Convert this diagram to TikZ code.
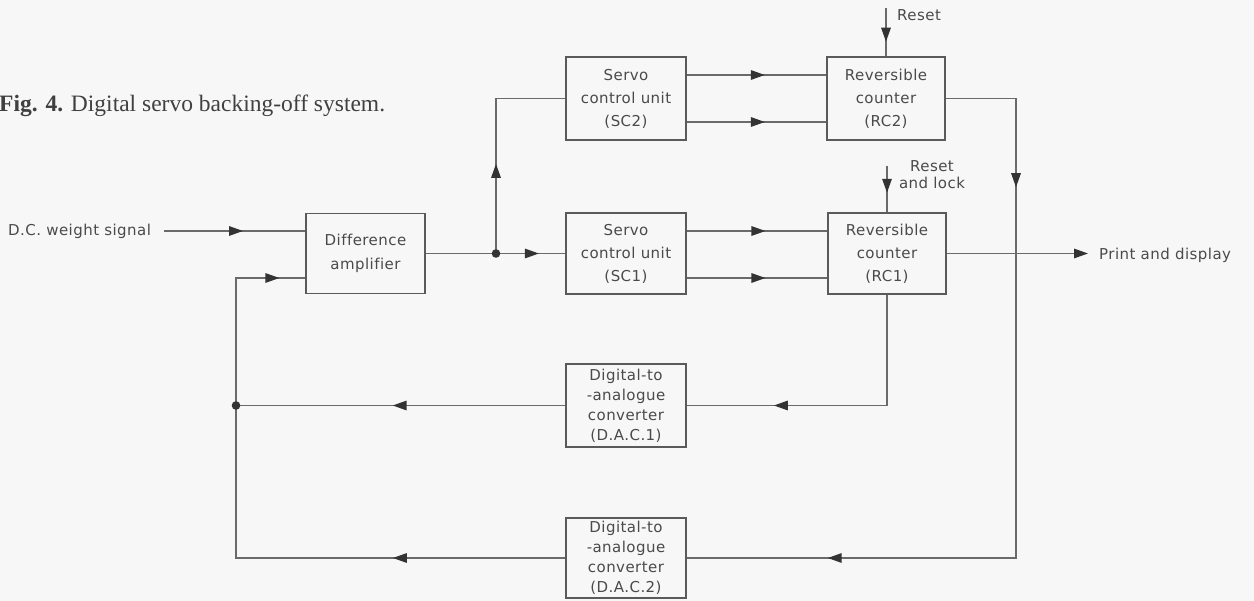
\documentclass[tikz,border=0pt]{standalone}
\usepackage{fontspec}
\usetikzlibrary{arrows.meta,decorations.markings,calc}
\newfontfamily\lblfont[LetterSpace=3,Ligatures=NoCommon]{DejaVu Sans}
\newfontfamily\capfont{Liberation Serif}
\definecolor{paper}{HTML}{F7F7F7}
\definecolor{wirecol}{HTML}{6A6A6A}
\definecolor{boxcol}{HTML}{5A5A5A}
\definecolor{inkcol}{HTML}{4A4A4A}
\definecolor{tipcol}{HTML}{333333}
\definecolor{capcol}{HTML}{404040}
\tikzset{
  tipA/.tip={Triangle[length=14pt,width=9.5pt,color=tipcol]},
  wire/.style={draw=wirecol,line width=1.5pt},
  arr/.style={postaction={decorate,decoration={markings,
      mark=at position #1 with {\arrow{tipA}}}}},
  blk/.style={draw=boxcol,line width=1.7pt,align=center,inner sep=0pt,
      text=inkcol,font=\lblfont\fontsize{15}{23}\selectfont},
  lbl/.style={inner sep=0pt,text=inkcol,font=\lblfont\fontsize{15}{17}\selectfont},
  dot/.style={fill=tipcol}
}
\begin{document}
\begin{tikzpicture}[x=1pt,y=-1pt]
  % page and background
  \fill[paper] (0,0) rectangle (1254,601);
  \useasboundingbox (0,0) rectangle (1254,601);

  % caption
  \node[anchor=base west,inner sep=0pt,text=capcol,font=\capfont\fontsize{23.5}{27}\selectfont]
    (cap) at (-1,112) {\textbf{Fig. 4.} Digital servo backing-off system.};

  % blocks
  \node[blk,minimum width=119pt,minimum height=80pt,font=\lblfont\fontsize{15}{24}\selectfont]
    (da) at (365.5,253.5) {Difference\\amplifier};
  \node[blk,minimum width=120pt,minimum height=83pt] (sc2) at (626,98.5) {Servo\\control unit\\(SC2)};
  \node[blk,minimum width=120pt,minimum height=81pt] (sc1) at (626,253.5) {Servo\\control unit\\(SC1)};
  \node[blk,minimum width=118pt,minimum height=83pt] (rc2) at (886,98.5) {Reversible\\counter\\(RC2)};
  \node[blk,minimum width=118pt,minimum height=81pt] (rc1) at (887,253.5) {Reversible\\counter\\(RC1)};
  \node[blk,minimum width=120pt,minimum height=83pt,font=\lblfont\fontsize{15}{20}\selectfont]
    (dac1) at (626,405.5) {Digital-to\\-analogue\\converter\\(D.A.C.1)};
  \node[blk,minimum width=120pt,minimum height=80pt,font=\lblfont\fontsize{15}{20}\selectfont]
    (dac2) at (626,558) {Digital-to\\-analogue\\converter\\(D.A.C.2)};

  % free labels
  \node[lbl,anchor=base west] (dcin) at (8,236) {D.C. weight signal};
  \node[lbl,anchor=base west] (rst2) at (897,21) {Reset};
  \node[lbl,align=center] (rst1) at (932,174.5) {Reset\\and lock};
  \node[lbl,anchor=base west] (prt) at (1099,259.5) {Print and display};

  % junctions and free ends
  \coordinate (inA) at (164,231);
  \coordinate (j1) at (496,253.5);
  \coordinate (j2) at (236,405.5);
  \coordinate (rs2) at (886,8);
  \coordinate (rs1) at (887,166);
  \coordinate (k2) at (1016,300);
  \coordinate (pout) at (1088,253.5);

  % forward path
  \draw[wire,arr=0.56] (inA) -- ([yshift=22.5pt]da.west);
  \draw[wire] (da.east) -- (j1);
  \draw[wire,arr=0.62] (j1) -- (sc1.west);
  \draw[wire,arr=0.40] (j1) |- (sc2.west);

  \draw[wire,arr=0.56] ([yshift=23.5pt]sc2.east) -- ([yshift=23.5pt]rc2.west);
  \draw[wire,arr=0.56] ([yshift=-23.5pt]sc2.east) -- ([yshift=-23.5pt]rc2.west);
  \draw[wire,arr=0.56] ([yshift=22.5pt]sc1.east) -- ([yshift=22.5pt]rc1.west);
  \draw[wire,arr=0.56] ([yshift=-24.5pt]sc1.east) -- ([yshift=-24.5pt]rc1.west);

  \draw[wire,arr=0.70] (rs2) -- (rc2.north);
  \draw[wire,arr=0.58] (rs1) -- (rc1.north);

  \draw[wire,-{tipA}] (rc1.east) -- (pout);

  % feedback paths
  \draw[wire,arr=0.185,arr=0.836] (rc2.east) -| (k2) |- (dac2.east);
  \draw[wire,arr=0.72] (rc1.south) |- (dac1.east);
  \draw[wire,arr=0.524] (dac1.west) -- (j2);
  \draw[wire,arr=0.254,arr=0.962] (dac2.west) -| (j2) |- ([yshift=-24.5pt]da.west);

  \fill[dot] (j1) circle[radius=4.3pt];
  \fill[dot] (j2) circle[radius=4.3pt];
\end{tikzpicture}
\end{document}
